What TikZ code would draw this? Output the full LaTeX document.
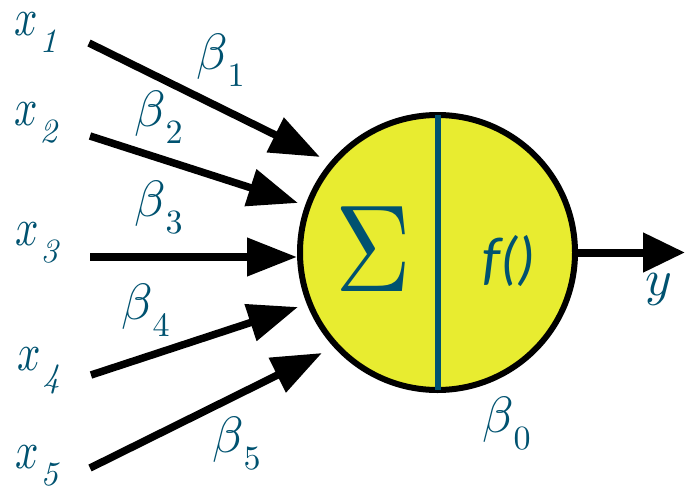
\documentclass[tikz,border=0pt]{standalone}
\usepackage{fontspec}
\newfontfamily\fsans{Carlito}
\usetikzlibrary{arrows.meta}
\definecolor{tealtxt}{RGB}{0,82,112}
\definecolor{neuronfill}{RGB}{232,236,48}
\tikzset{
  lab/.style={anchor=base west, inner sep=0pt, text=tealtxt},
  arr/.style={line width=7.5pt, -{Triangle[length=50pt,width=37pt]}},
}
\newcommand{\mth}[3][]{\scalebox{#2}[\ifx\relax#1\relax#2\else#1\fi]{\fontsize{10}{12}\selectfont$#3$}}
\newcommand{\sbs}[1]{\raisebox{-17.5pt}{\scalebox{3.4}{\fontsize{10}{12}\selectfont #1}}}
\newcommand{\xsub}[1]{\mth[5.3]{4.1}{x}\kern2pt\sbs{\itshape #1}}
\newcommand{\bsub}[1]{\mth{5.1}{\beta}\kern0pt\sbs{\upshape #1}}
\begin{document}
\begin{tikzpicture}[x=1pt,y=-1pt]
\useasboundingbox (0,0) rectangle (685,490);
% neuron
\node[circle, draw=black, line width=6pt, fill=neuronfill, minimum size=275pt, inner sep=0pt] (n) at (437.5,252.5) {};
\draw[tealtxt, line width=6pt, shorten >=3pt, shorten <=3pt] (n.north) -- (n.south);
\node[anchor=base, inner sep=0pt, text=tealtxt] (sig) at (373,291) {\mth[12.4]{10.5}{\Sigma}};
\node[anchor=base, inner sep=0pt, text=tealtxt, font=\fsans\fontsize{59}{59}\selectfont\itshape] (fn) at (509,278) {f()};
% inputs
\node[lab] (x1) at (14,35) {\xsub{1}};
\node[lab] (x2) at (14,125) {\xsub{2}};
\node[lab] (x3) at (15,245) {\xsub{3}};
\node[lab] (x4) at (17,370) {\xsub{4}};
\node[lab] (x5) at (15,468) {\xsub{5}};
% weights
\node[lab] (b1) at (196,69) {\bsub{1}};
\node[lab] (b2) at (134,126) {\bsub{2}};
\node[lab] (b3) at (134,216) {\bsub{3}};
\node[lab] (b4) at (121,319) {\bsub{4}};
\node[lab] (b5) at (212,452) {\bsub{5}};
\node[lab] (b0) at (482,432) {\bsub{0}};
% output label
\node[lab] (y) at (645,295) {\mth{5.1}{y}};
% arrow endpoints
\coordinate (s1) at (89,43);  \coordinate (t1) at (320,157);
\coordinate (s2) at (90,136); \coordinate (t2) at (298,203);
\coordinate (s3) at (90,257); \coordinate (t3) at (297,257);
\coordinate (s4) at (91,375); \coordinate (t4) at (298,307);
\coordinate (s5) at (90,468); \coordinate (t5) at (322,353);
\coordinate (yout) at (685,252.5);
\draw[arr] (s1) -- (t1);
\draw[arr] (s2) -- (t2);
\draw[arr] (s3) -- (t3);
\draw[arr] (s4) -- (t4);
\draw[arr] (s5) -- (t5);
\draw[arr, line width=8pt, -{Triangle[length=42pt,width=38pt]}] (n.east) -- (yout);
\end{tikzpicture}
\end{document}
